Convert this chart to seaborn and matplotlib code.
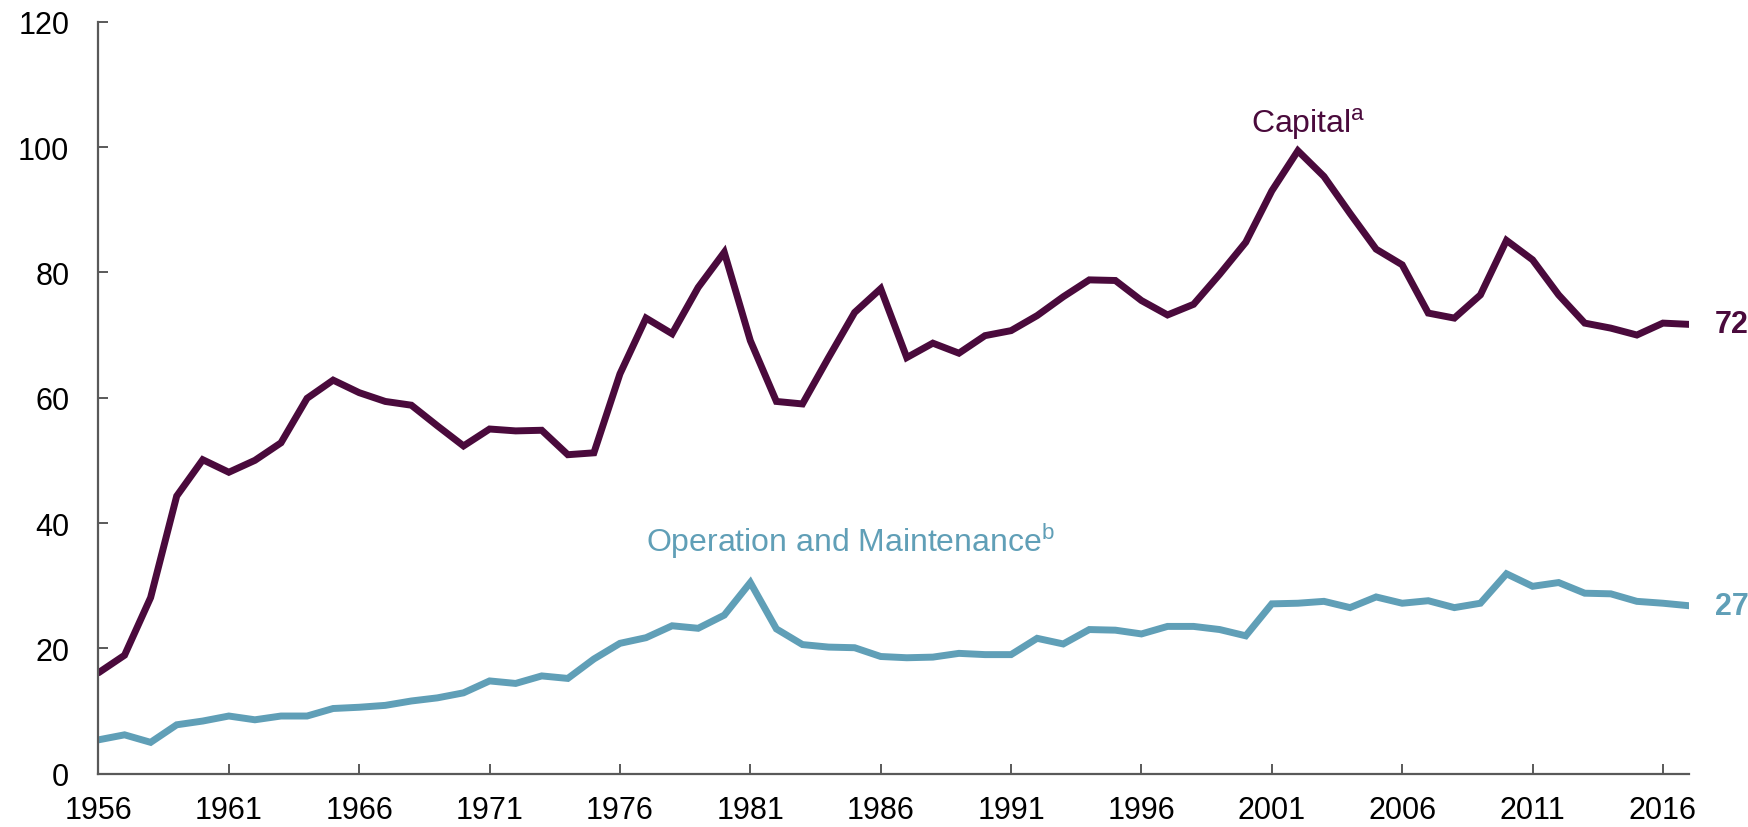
import matplotlib
matplotlib.use("Agg")
import matplotlib.pyplot as plt
import seaborn as sns
import pandas as pd

# values
years = list(range(1956, 2018))

capital = [16.1, 18.9, 28.1, 44.3, 50.1, 48.1, 50.0, 52.8, 59.9, 62.8,
           60.8, 59.4, 58.8, 55.5, 52.3, 55.0, 54.7, 54.8, 50.9, 51.2,
           63.8, 72.7, 70.2, 77.6, 83.2, 69.1, 59.4, 59.0, 66.4, 73.6,
           77.4, 66.4, 68.7, 67.1, 69.9, 70.7, 73.1, 76.1, 78.8, 78.7,
           75.5, 73.2, 74.9, 79.7, 84.8, 93.0, 99.4, 95.3, 89.4, 83.7,
           81.2, 73.5, 72.7, 76.4, 85.1, 82.0, 76.4, 71.9, 71.1, 70.0,
           71.9, 71.7]

operation = [5.4, 6.2, 5.0, 7.8, 8.4, 9.2, 8.6, 9.2, 9.2, 10.4,
             10.6, 10.9, 11.6, 12.1, 12.9, 14.8, 14.4, 15.6, 15.2, 18.3,
             20.8, 21.7, 23.6, 23.2, 25.3, 30.5, 23.1, 20.6, 20.2, 20.1,
             18.7, 18.5, 18.6, 19.2, 19.0, 19.0, 21.6, 20.7, 23.0, 22.9,
             22.3, 23.5, 23.5, 23.0, 22.0, 27.1, 27.2, 27.5, 26.5, 28.2,
             27.2, 27.6, 26.5, 27.2, 31.9, 29.9, 30.5, 28.8, 28.7, 27.5,
             27.2, 26.8]

series_names = ["Capital", "Operation and Maintenance"]
series_colors = ["#4a0a3c", "#609fb7"]
end_labels = ["72", "27"]

x_ticks = list(range(1956, 2017, 5))
y_ticks = list(range(0, 121, 20))

df = pd.DataFrame({
    "Year": years * 2,
    "Value": capital + operation,
    "Series": [series_names[0]] * len(years) + [series_names[1]] * len(years),
})

sns.set_style("ticks")
plt.rcParams["font.family"] = ["Liberation Sans", "DejaVu Sans"]
plt.rcParams["mathtext.fontset"] = "custom"
plt.rcParams["mathtext.rm"] = "Liberation Sans"

fig = plt.figure(figsize=(17.49, 8.28), dpi=100)
ax = fig.add_axes([0.0563, 0.0644, 0.9094, 0.9082])

sns.lineplot(data=df, x="Year", y="Value", hue="Series",
             palette=dict(zip(series_names, series_colors)),
             linewidth=5.0, legend=False, ax=ax)
for line in ax.lines:
    line.set_solid_joinstyle("miter")

ax.set_xlim(1956, 2017)
ax.set_ylim(0, 120)
ax.set_xticks(x_ticks)
ax.set_yticks(y_ticks)
ax.set_xlabel("")
ax.set_ylabel("")

sns.despine(ax=ax)
for side in ["left", "bottom"]:
    ax.spines[side].set_color("#595959")
    ax.spines[side].set_linewidth(1.6)

ax.tick_params(axis="both", direction="in", length=7, width=1.4,
               color="#595959", labelsize=22, labelcolor="black")
ax.tick_params(axis="x", pad=15)
ax.tick_params(axis="y", pad=21)

# series labels
ax.text(2000.2, 102.4, r"Capital$^{\mathrm{a}}$", color=series_colors[0],
        fontsize=23, ha="left", va="baseline")
ax.text(1977.0, 35.6, r"Operation and Maintenance$^{\mathrm{b}}$",
        color=series_colors[1], fontsize=23, ha="left", va="baseline")

# end-of-line values
for vals, lab, col in zip([capital, operation], end_labels, series_colors):
    ax.text(2018.0, vals[-1], lab, color=col, fontsize=22,
            fontweight="bold", ha="left", va="center", clip_on=False)

fig.savefig("out.png", dpi=100)
